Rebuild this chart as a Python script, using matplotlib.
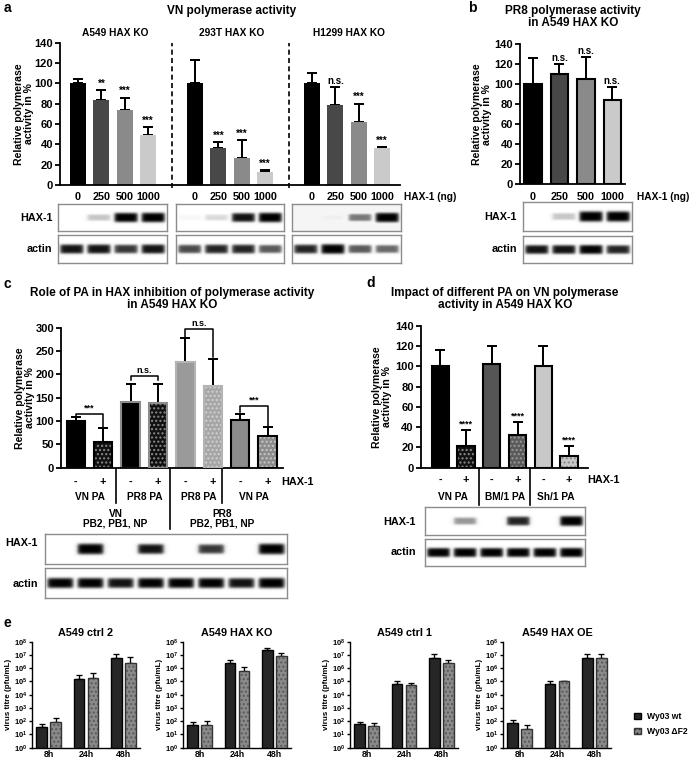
import numpy as np
import matplotlib
matplotlib.use("Agg")
import matplotlib.pyplot as plt
import matplotlib.transforms as mtransforms
from matplotlib.patches import Patch

plt.rcParams['font.family'] = ['Liberation Sans', 'DejaVu Sans']
plt.rcParams['font.weight'] = 'bold'
plt.rcParams['axes.titleweight'] = 'bold'
plt.rcParams['axes.labelweight'] = 'bold'
plt.rcParams['axes.linewidth'] = 1.3
plt.rcParams['hatch.linewidth'] = 1.0
plt.rcParams['mathtext.fontset'] = 'custom'
plt.rcParams['mathtext.bf'] = 'Liberation Sans:bold'
plt.rcParams['mathtext.rm'] = 'Liberation Sans:bold'
plt.rcParams['mathtext.default'] = 'bf'

# ---- data: panel a (VN polymerase, three cell lines)
doses = ["0", "250", "500", "1000"]
a_cells = ["A549 HAX KO", "293T HAX KO", "H1299 HAX KO"]
a_mean = [[100, 84, 74, 49], [100, 36, 27, 13], [100, 79, 62, 36]]
a_err = [[4, 9, 12, 8], [23, 6, 17, 2], [10, 17, 18, 1]]
a_sig = [["", "**", "***", "***"], ["", "***", "***", "***"], ["", "n.s.", "***", "***"]]
a_hax = [[0.0, 0.3, 0.95, 1.0], [0.06, 0.22, 0.85, 1.0], [0.0, 0.12, 0.55, 1.0]]
a_actin = [[0.85, 0.85, 0.75, 0.85], [0.7, 0.8, 0.8, 0.65], [0.8, 0.95, 0.65, 0.6]]
a_bg = [0.0, 0.0, 0.08]
dose_colors = ["#000000", "#484848", "#8a8a8a", "#cacaca"]

# ---- panel b (PR8 polymerase)
b_mean = [100, 110, 105, 84]
b_err = [26, 10, 22, 13]
b_sig = ["", "n.s.", "n.s.", "n.s."]
b_hax = [0.0, 0.3, 1.0, 1.0]
b_actin = [0.85, 0.85, 0.9, 0.8]

# ---- panel c (role of PA)
c_hax_lbl = ["-", "+", "-", "+", "-", "+", "-", "+"]
c_pa = ["VN PA", "PR8 PA", "PR8 PA", "VN PA"]
c_core = ["VN\nPB2, PB1, NP", "PR8\nPB2, PB1, NP"]
c_mean = [100, 55, 141, 139, 227, 175, 103, 68]
c_err = [9, 31, 38, 41, 52, 59, 13, 19]
c_fill = ["#000000", "#111111", "#000000", "#111111", "#9a9a9a", "#a6a6a6", "#8c8c8c", "#8c8c8c"]
c_dots = [None, "#8a8a8a", None, "#8a8a8a", None, "#d0d0d0", None, "#c8c8c8"]
c_edge = ["#000000", "#000000", "#8c8c8c", "#8c8c8c", "#b4b4b4", "#b4b4b4", "#000000", "#000000"]
c_brk_lbl = ["***", "n.s.", "n.s.", "***"]
c_brk_top = [116, 196, 297, 132]
c_brk_left = [111, 188, 281, 119]
c_brk_right = [88, 188, 238, 89]
c_hax = [0, 1.0, 0, 0.85, 0, 0.75, 0, 1.0]
c_actin = [0.9, 0.9, 0.85, 0.9, 0.9, 0.9, 0.85, 0.95]

# ---- panel d (different PA)
d_hax_lbl = ["-", "+", "-", "+", "-", "+"]
d_pa = ["VN PA", "BM/1 PA", "Sh/1 PA"]
d_mean = [100, 21, 102, 32, 100, 12]
d_err = [16, 16, 18, 13, 20, 9]
d_sig = ["", "****", "", "****", "", "****"]
d_fill = ["#000000", "#111111", "#555555", "#5a5a5a", "#c8c8c8", "#c8c8c8"]
d_dots = [None, "#8a8a8a", None, "#9a9a9a", None, "#8a8a8a"]
d_hax = [0, 0.45, 0, 0.8, 0, 1.0]
d_actin = [0.9, 0.9, 0.9, 0.9, 0.9, 0.95]

# ---- panel e (virus titres)
e_titles = ["A549 ctrl 2", "A549 HAX KO", "A549 ctrl 1", "A549 HAX OE"]
e_times = ["8h", "24h", "48h"]
e_wt = [[34, 1.5e5, 6.2e6], [54, 2.3e6, 2.2e7], [60, 6.3e4, 6e6], [79, 6.3e4, 5.6e6]]
e_wt_top = [[58, 3e5, 1.1e7], [80, 4e6, 3.5e7], [89, 1.1e5, 1.1e7], [126, 1.1e5, 1.1e7]]
e_df2 = [[92, 1.7e5, 2.3e6], [54, 5.9e5, 8.5e6], [42, 5.6e4, 2.5e6], [28, 1e5, 6e6]]
e_df2_top = [[183, 4.6e5, 6.6e6], [95, 1.3e6, 1.4e7], [79, 7.5e4, 4.2e6], [50, 1.1e5, 1.1e7]]
e_left = [32, 183, 350, 503]

W, H = 696, 761
fig = plt.figure(figsize=(W / 100, H / 100), dpi=100)


def px_axes(x0, y0, x1, y1):
    return fig.add_axes([x0 / W, 1 - y1 / H, (x1 - x0) / W, (y1 - y0) / H])


def ftext(x, y, s, **kw):
    fig.text(x / W, 1 - y / H, s, **kw)


def blend(ax):
    return mtransforms.blended_transform_factory(ax.transData, fig.transFigure)


def xlab(ax, x, ypx, s, **kw):
    ax.text(x, 1 - ypx / H, s, transform=blend(ax), clip_on=False, **kw)


def xline(ax, x, y0px, y1px, **kw):
    ax.plot([x, x], [1 - y0px / H, 1 - y1px / H], transform=blend(ax),
            clip_on=False, color="black", lw=1.2, **kw)


def style_axes(ax, fs=8):
    for s in ["top", "right"]:
        ax.spines[s].set_visible(False)
    ax.tick_params(axis="y", direction="out", length=3.5, width=1.3, labelsize=fs, pad=1.5)
    ax.tick_params(axis="x", length=0, labelbottom=False)


def bars(ax, xs, means, errs, width, fills, edges, dots, lw=1.5, cap=3.5):
    ax.errorbar(xs, means, yerr=[[0] * len(errs), errs], fmt="none", ecolor="black",
                elinewidth=lw * 0.95, capsize=cap, capthick=lw * 0.95, zorder=1)
    for x, m, f, e, d in zip(xs, means, fills, edges, dots):
        if d is None:
            ax.bar(x, m, width, color=f, edgecolor=e, linewidth=lw if e else 0, zorder=2)
        else:
            ax.bar(x, m, width, color=f, edgecolor=d, hatch="....", linewidth=0, zorder=2)
            ax.bar(x, m, width, fill=False, edgecolor=e, linewidth=lw, zorder=3)


def sig(ax, xs, tops, labels, fs=7):
    for x, t, s in zip(xs, tops, labels):
        if s:
            ax.annotate(s, (x, t), xytext=(0, 1), textcoords="offset points",
                        ha="center", va="bottom", fontsize=fs)


def blot(x0, y0, x1, y1, bands, bg=0.0):
    ax = px_axes(x0, y0, x1, y1)
    n = len(bands)
    yy = np.linspace(-1, 1, 40)[:, None]
    xx = np.linspace(0, n, 60 * n)[None, :]
    img = np.full((40, 60 * n), bg)
    for i, v in enumerate(bands):
        c = i + 0.5
        hw = 0.43
        horiz = 0.5 * (np.tanh((xx - (c - hw)) * 12) - np.tanh((xx - (c + hw)) * 12))
        th = 0.2 + 0.2 * v
        vert = np.exp(-(yy / th) ** 4)
        img = np.maximum(img, min(1.0, v * 1.1) * horiz * vert)
    ax.imshow(img, cmap="Greys", vmin=0, vmax=1, aspect="auto",
              extent=[0, n, -1, 1], interpolation="bilinear")
    ax.set_xticks([])
    ax.set_yticks([])
    for s in ax.spines.values():
        s.set_color("#8c8c8c")
        s.set_linewidth(1.0)
    return ax


YLAB = "Relative polymerase\nactivity in %"

# ================= panel a =================
ftext(4, 8, "a", fontsize=10, va="center")
ftext(232, 11, "VN polymerase activity", fontsize=8.5, ha="center", va="center")
ax = px_axes(60, 42.7, 400, 185)
spacing = 5
for g in range(3):
    xs = [g * spacing + j for j in range(4)]
    bars(ax, xs, a_mean[g], a_err[g], 0.68, dose_colors, [None] * 4, [None] * 4)
    sig(ax, xs, [m + e for m, e in zip(a_mean[g], a_err[g])], a_sig[g])
    for x, d in zip(xs, doses):
        xlab(ax, x, 197, d, ha="center", va="center", fontsize=7.8)
    ftext([115, 232, 349][g], 33, a_cells[g], ha="center", va="center", fontsize=7.3)
    blot([58, 176, 292][g], 204, [167, 284, 401][g], 231, a_hax[g], a_bg[g])
    blot([58, 176, 292][g], 235, [167, 284, 401][g], 263, a_actin[g])
for xv in [4, 9]:
    ax.axvline(xv, ymin=-0.02, ymax=1.0, ls=(0, (3, 2)), color="black", lw=1.2, clip_on=False)
xlab(ax, 13.95, 197, "HAX-1 (ng)", ha="left", va="center", fontsize=7.3)
ax.set_xlim(-0.77, 13.76)
ax.set_ylim(0, 140)
ax.set_yticks(range(0, 141, 20))
style_axes(ax)
ax.set_ylabel(YLAB, fontsize=7.6, labelpad=0.5, linespacing=1.0)
ftext(53, 218, "HAX-1", ha="right", va="center", fontsize=7.8)
ftext(52, 249, "actin", ha="right", va="center", fontsize=7.8)

# ================= panel b =================
ftext(468, 8, "b", fontsize=10, va="center")
ftext(573, 17, "PR8 polymerase activity\nin A549 HAX KO", ha="center", va="center",
      fontsize=8.5, linespacing=1.05)
ax = px_axes(520, 44.3, 625, 184)
xs = list(range(4))
bars(ax, xs, b_mean, b_err, 0.66, dose_colors, ["black"] * 4, [None] * 4)
sig(ax, xs, [m + e for m, e in zip(b_mean, b_err)], b_sig)
for x, d in zip(xs, doses):
    xlab(ax, x, 197, d, ha="center", va="center", fontsize=7.8)
xlab(ax, 3.95, 197, "HAX-1 (ng)", ha="left", va="center", fontsize=7.3)
ax.set_xlim(-0.49, 3.48)
ax.set_ylim(0, 140)
ax.set_yticks(range(0, 141, 20))
style_axes(ax)
ax.set_ylabel(YLAB, fontsize=7.6, labelpad=2, linespacing=1.0)
blot(523, 202, 632, 231, b_hax)
blot(523, 236, 632, 263, b_actin)
ftext(517, 217, "HAX-1", ha="right", va="center", fontsize=7.8)
ftext(517, 249, "actin", ha="right", va="center", fontsize=7.8)

# ================= panel c =================
ftext(3, 284, "c", fontsize=10, va="center")
ftext(172, 299, "Role of PA in HAX inhibition of polymerase activity\nin A549 HAX KO",
      ha="center", va="center", fontsize=8.5, linespacing=1.05)
ax = px_axes(61, 327.7, 283, 467.7)
xs = list(range(8))
bars(ax, xs, c_mean, c_err, 0.67, c_fill, c_edge, c_dots)
for p in range(4):
    i, j = 2 * p, 2 * p + 1
    t = c_brk_top[p]
    ax.plot([i, i, j, j], [c_brk_left[p], t, t, c_brk_right[p]], color="black", lw=1.1,
            clip_on=False, zorder=4)
    ax.annotate(c_brk_lbl[p], ((i + j) / 2, t), xytext=(0, 1), textcoords="offset points",
                ha="center", va="bottom", fontsize=6.5, annotation_clip=False)
    xlab(ax, p * 2 + 0.5, 497, c_pa[p], ha="center", va="center", fontsize=7.3)
for x, s in zip(xs, c_hax_lbl):
    xlab(ax, x, 482, s, ha="center", va="center", fontsize=7.8)
xlab(ax, 7.5, 482, "HAX-1", ha="left", va="center", fontsize=7.8)
xline(ax, 1.45, 469, 503)
xline(ax, 3.45, 469, 529)
xline(ax, 5.35, 469, 503)
xlab(ax, 1.45, 519, c_core[0], ha="center", va="center", fontsize=7.3, linespacing=1.0)
xlab(ax, 5.35, 519, c_core[1], ha="center", va="center", fontsize=7.3, linespacing=1.0)
ax.set_xlim(-0.54, 7.56)
ax.set_ylim(0, 300)
ax.set_yticks(range(0, 301, 50))
style_axes(ax)
ax.set_ylabel(YLAB, fontsize=7.6, labelpad=0.5, linespacing=1.0)
blot(45, 534, 287, 564, c_hax)
blot(45, 568, 287, 598, c_actin)
ftext(38, 543, "HAX-1", ha="right", va="center", fontsize=7.8)
ftext(38, 584, "actin", ha="right", va="center", fontsize=7.8)

# ================= panel d =================
ftext(366, 283, "d", fontsize=10, va="center")
ftext(505, 299, "Impact of different PA on VN polymerase\nactivity in A549 HAX KO",
      ha="center", va="center", fontsize=8.5, linespacing=1.05)
ax = px_axes(420.7, 325.7, 588.3, 467.7)
xs = list(range(6))
bars(ax, xs, d_mean, d_err, 0.67, d_fill, ["black"] * 6, d_dots)
sig(ax, xs, [m + e for m, e in zip(d_mean, d_err)], d_sig, fs=6.5)
for x, s in zip(xs, d_hax_lbl):
    xlab(ax, x, 480, s, ha="center", va="center", fontsize=7.8)
for p, s in enumerate(d_pa):
    xlab(ax, 2 * p + 0.5, 497, s, ha="center", va="center", fontsize=7.3)
xline(ax, 1.5, 468, 505)
xline(ax, 3.5, 468, 505)
xlab(ax, 5.7, 480, "HAX-1", ha="left", va="center", fontsize=7.8)
ax.set_xlim(-0.76, 5.75)
ax.set_ylim(0, 140)
ax.set_yticks(range(0, 141, 20))
style_axes(ax)
ax.set_ylabel(YLAB, fontsize=7.6, labelpad=2, linespacing=1.0)
blot(425, 507, 585, 535, d_hax)
blot(425, 539, 585, 566, d_actin)
ftext(416, 522, "HAX-1", ha="right", va="center", fontsize=7.8)
ftext(416, 552, "actin", ha="right", va="center", fontsize=7.8)

# ================= panel e =================
ftext(3, 623, "e", fontsize=10, va="center")
for k in range(4):
    x0 = e_left[k]
    ax = px_axes(x0, 641.7, x0 + 108, 747.7)
    g = np.arange(3)
    wt_err = [t - m for t, m in zip(e_wt_top[k], e_wt[k])]
    df_err = [t - m for t, m in zip(e_df2_top[k], e_df2[k])]
    bars(ax, g - 0.19, e_wt[k], wt_err, 0.29, ["#262626"] * 3, ["black"] * 3, [None] * 3,
         lw=1.0, cap=2.5)
    bars(ax, g + 0.19, e_df2[k], df_err, 0.29, ["#8a8a8a"] * 3, ["#333333"] * 3,
         ["#5a5a5a"] * 3, lw=1.0, cap=2.5)
    ax.set_yscale("log")
    ax.set_ylim(1, 1e8)
    ax.set_xlim(-0.45, 2.45)
    ax.set_yticks([10.0 ** n for n in range(9)])
    ax.set_yticklabels(["$10^{%d}$" % n for n in range(9)])
    ax.minorticks_off()
    for s in ["top", "right"]:
        ax.spines[s].set_visible(False)
    ax.spines["left"].set_linewidth(1.0)
    ax.spines["bottom"].set_linewidth(1.0)
    ax.tick_params(axis="y", length=2.5, width=1.0, labelsize=5.5, pad=1)
    ax.set_xticks(g)
    ax.set_xticklabels(e_times, fontsize=6.3)
    ax.tick_params(axis="x", length=0, pad=2)
    ax.set_ylabel("virus titre (pfu/mL)", fontsize=5.8, labelpad=1)
    ax.set_title(e_titles[k], fontsize=7.8, pad=4)

handles = [Patch(facecolor="#262626", edgecolor="black"),
           Patch(facecolor="#8a8a8a", edgecolor="#333333", hatch="....")]
fig.legend(handles, ["Wy03 wt", "Wy03 \u0394F2"], loc="center left",
           bbox_to_anchor=(634 / W, 1 - 724 / H), frameon=False, fontsize=6.2,
           handlelength=0.8, handleheight=0.8, handletextpad=0.7, labelspacing=0.7,
           borderaxespad=0, borderpad=0)

fig.savefig("out.png", dpi=100)
